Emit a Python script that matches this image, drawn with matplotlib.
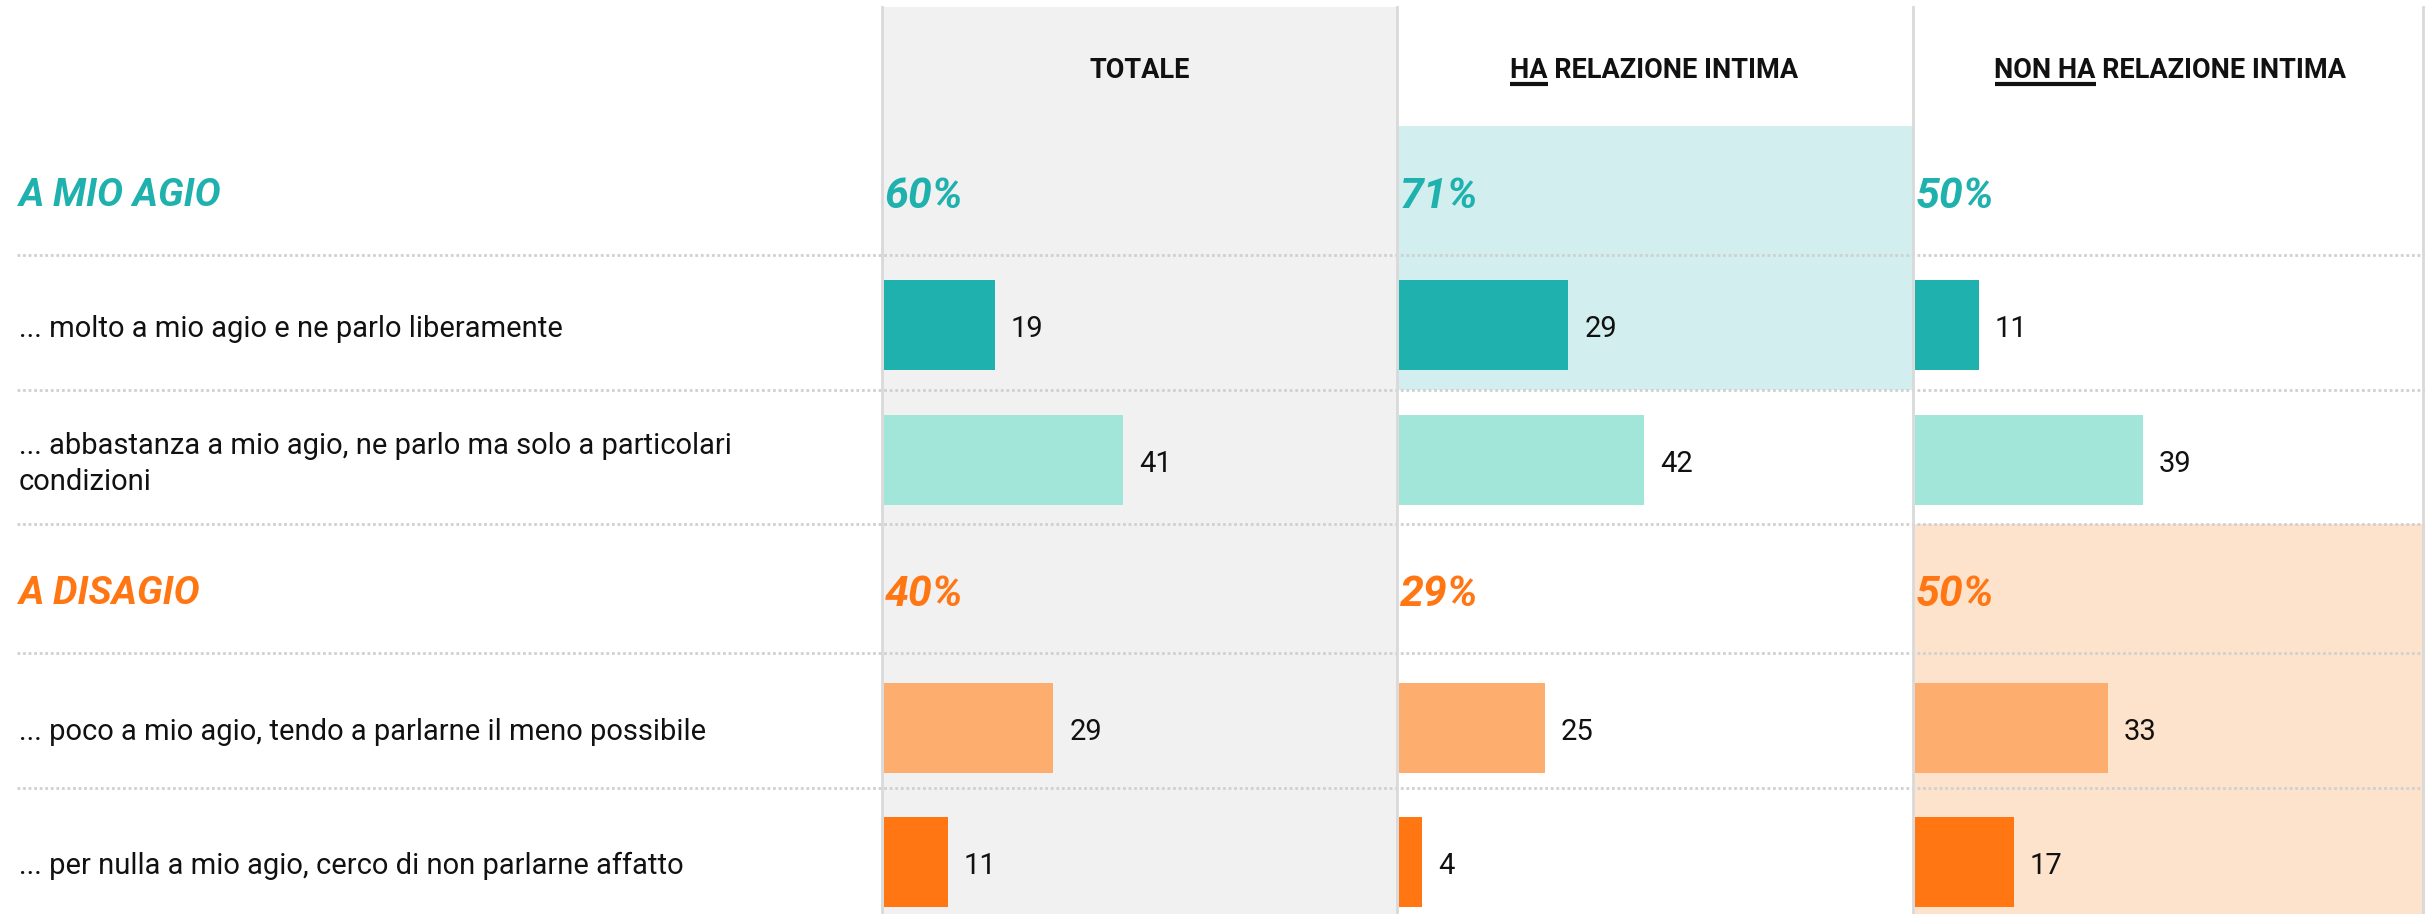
import matplotlib
matplotlib.use("Agg")
import matplotlib.pyplot as plt
from matplotlib.patches import Rectangle

# ---------------- data ----------------
columns = ["TOTALE", "HA RELAZIONE INTIMA", "NON HA RELAZIONE INTIMA"]
underlined = ["", "HA", "NON HA"]
groups = ["A MIO AGIO", "A DISAGIO"]
agio_tot = [60, 71, 50]
disagio_tot = [40, 29, 50]
items = [
    "... molto a mio agio e ne parlo liberamente",
    "... abbastanza a mio agio, ne parlo ma solo a particolari\ncondizioni",
    "... poco a mio agio, tendo a parlarne il meno possibile",
    "... per nulla a mio agio, cerco di non parlarne affatto",
]
molto = [19, 29, 11]
abbastanza = [41, 42, 39]
poco = [29, 25, 33]
per_nulla = [11, 4, 17]

# ---------------- style ----------------
TEAL = "#1fb1ad"
TEAL_L = "#a1e6d9"
TEAL_BG = "#d2eeee"
ORANGE = "#ff7613"
ORANGE_L = "#fdae6f"
ORANGE_BG = "#fde2cc"
GREY_BG = "#f1f1f1"
LINE = "#d0d0d0"
FONT = "Roboto"

W, H = 2425, 914
fig = plt.figure(figsize=(W / 100, H / 100), dpi=100)
bg = fig.add_axes([0, 0, 1, 1])
bg.set_xlim(0, W)
bg.set_ylim(H, 0)
bg.axis("off")

col_left = [882, 1397, 1913]
col_w = 512
px_per_unit = 5.84
top = 7
seps = [255, 390, 524, 653, 788]
group_y = [196, 594]
bar_y = [325, 460, 728, 862]
txt_dy = 4
bar_h = 90
header_y = 71

# backgrounds
bg.add_patch(Rectangle((col_left[0], top), col_left[1] - col_left[0], H - top, color=GREY_BG, lw=0))
bg.add_patch(Rectangle((col_left[1], 126), col_left[2] - col_left[1], 390 - 126, color=TEAL_BG, lw=0))
bg.add_patch(Rectangle((col_left[2], 524), W - col_left[2], H - 524, color=ORANGE_BG, lw=0))

# separators
for y in seps:
    bg.plot([17, W], [y, y], color=LINE, lw=2, ls=(0, (1, 1)), solid_capstyle="butt")
for x in col_left + [W - 2]:
    bg.plot([x, x], [top, H], color="#d9d9d9", lw=2)

# left labels
for g, gy, c in zip(groups, group_y, [TEAL, ORANGE]):
    bg.text(19, gy, g, color=c, fontsize=28, fontweight="bold", fontstyle="italic",
            family=FONT, va="center", ha="left")
for lab, by in zip(items, bar_y):
    bg.text(19, by + txt_dy, lab, color="#111111", fontsize=21, family=FONT, va="center",
            ha="left", linespacing=1.35)

# headers with underlines
renderer = fig.canvas.get_renderer()
for i, (name, ul) in enumerate(zip(columns, underlined)):
    cx = col_left[i] + (col_left[1] - col_left[0]) / 2
    t = bg.text(cx, header_y, name, fontsize=19.5, fontweight="bold", family=FONT,
                ha="center", va="center", color="#111111")
    if ul:
        bb = t.get_window_extent(renderer)
        tmp = bg.text(0, 0, ul, fontsize=19.5, fontweight="bold", family=FONT)
        wb = tmp.get_window_extent(renderer)
        tmp.remove()
        x0 = bb.x0
        bg.plot([x0, x0 + wb.width], [84, 84], color="#111111", lw=3, solid_capstyle="butt")

# column axes with bars
series = [molto, abbastanza, poco, per_nulla]
colors = [TEAL, TEAL_L, ORANGE_L, ORANGE]
for i in range(3):
    ax = fig.add_axes([(col_left[i] + 2) / W, 0, col_w / W, 1])
    ax.set_xlim(0, col_w / px_per_unit)
    ax.set_ylim(H, 0)
    ax.axis("off")
    ax.patch.set_alpha(0)
    vals = [s[i] for s in series]
    ax.barh(bar_y, vals, height=bar_h, color=colors, left=0)
    for v, y in zip(vals, bar_y):
        ax.text(v + 2.7, y + txt_dy, str(v), va="center", ha="left", fontsize=21,
                family=FONT, color="#111111")
    for tot, gy, c in zip([agio_tot[i], disagio_tot[i]], group_y, [TEAL, ORANGE]):
        ax.text(0.1, gy, f"{tot}%", color=c, fontsize=31, fontweight="bold",
                fontstyle="italic", family=FONT, va="center", ha="left")

fig.savefig("out.png", dpi=100)
